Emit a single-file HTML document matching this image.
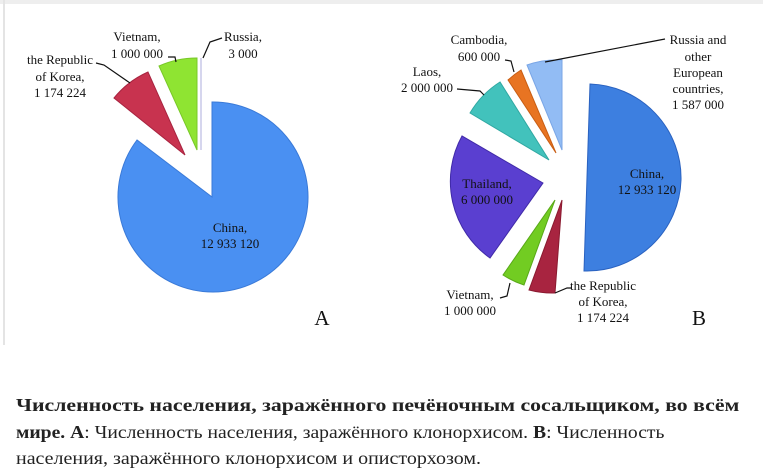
<!DOCTYPE html>
<html><head><meta charset="utf-8"><style>
html,body{margin:0;padding:0;background:#fff;width:763px;height:476px;overflow:hidden}
.cap{position:absolute;left:16px;font-family:"Liberation Serif",serif;font-size:18px;color:#222;white-space:nowrap;transform-origin:0 0}
</style></head><body>
<div style="position:absolute;left:0;top:0;width:763px;height:4px;background:#eee"></div>
<div style="position:absolute;left:3px;top:0;width:2px;height:345px;background:#e4e4e4"></div>
<svg width="763" height="345" style="position:absolute;left:0;top:0" font-family="Liberation Serif, serif" font-size="13" fill="#111">
<g stroke-width="1">
<path d="M212,197 L212,102 A95,95 0 1 1 137,140 Z" fill="#4a90f2" stroke="#3a7ad8"/>
<path d="M185,155 L114,98 A91,91 0 0 1 148,72 Z" fill="#c8334f" stroke="#a82440"/>
<path d="M197,150 L159,66 A92,92 0 0 1 197,58 Z" fill="#8fe432" stroke="#78c828"/>
<path d="M201,150 L201,58" stroke="#c8c8e8" stroke-width="1.5"/>
<path d="M587,177 L590,84 A94,94 0 0 1 681,180 A94,94 0 0 1 584,271 Z" fill="#3d7fe0" stroke="#2a62c0"/>
<path d="M543,183 L462,136 A94,94 0 0 0 490,258 Z" fill="#5a3fd0" stroke="#402aa8"/>
<path d="M555,200 L503,275 A91,91 0 0 0 524,285 Z" fill="#72cc22" stroke="#58a818"/>
<path d="M562,200 L529,290 A92,92 0 0 0 555,293 Z" fill="#a82440" stroke="#8a1a30"/>
<path d="M549,160 L470,113 A92,92 0 0 1 500,82 Z" fill="#42c2bc" stroke="#30a8a2"/>
<path d="M556,153 L508,80 A88,88 0 0 1 521,70 Z" fill="#e87422" stroke="#c85e14"/>
<path d="M562,150 L527,65 A90,90 0 0 1 562,60 Z" fill="#92bcf4" stroke="#7aa6e6"/>
</g>
<g stroke="#111" stroke-width="1.2" fill="none">
<path d="M96,63 L104,65 L130,83"/>
<path d="M168,57 L175,57 L176,62"/>
<path d="M222,38 L210,42 L203,58"/>
<path d="M505,60 L511,61 L514,72"/>
<path d="M457,89 L480,91 L484,95"/>
<path d="M665,39 L545,62"/>
<path d="M500,298 L507,296 L510,283"/>
<path d="M555,293 L567,288 L572,288"/>
</g>
<g text-anchor="middle">
<text x="137" y="41">Vietnam,</text><text x="137" y="58">1 000 000</text>
<text x="243" y="41">Russia,</text><text x="243" y="58">3 000</text>
<text x="60" y="64">the Republic</text><text x="60" y="81">of Korea,</text><text x="60" y="97">1 174 224</text>
<text x="230" y="232">China,</text><text x="230" y="248">12 933 120</text>
<text x="322" y="325" font-size="21">A</text>
<text x="479" y="44">Cambodia,</text><text x="479" y="61">600 000</text>
<text x="427" y="76">Laos,</text><text x="427" y="92">2 000 000</text>
<text x="698" y="44">Russia and</text><text x="698" y="61">other</text><text x="698" y="77">European</text><text x="698" y="93">countries,</text><text x="698" y="109">1 587 000</text>
<text x="647" y="178">China,</text><text x="647" y="194">12 933 120</text>
<text x="487" y="188">Thailand,</text><text x="487" y="204">6 000 000</text>
<text x="470" y="299">Vietnam,</text><text x="470" y="315">1 000 000</text>
<text x="603" y="290">the Republic</text><text x="603" y="306">of Korea,</text><text x="603" y="322">1 174 224</text>
<text x="699" y="325" font-size="21">B</text>
</g>
</svg>
<div class="cap" style="top:395px;font-weight:bold;transform:scaleX(1.21)">Численность населения, заражённого печёночным сосальщиком, во всём</div>
<div class="cap" style="top:422px;transform:scaleX(1.09)"><b>мире. A</b>: Численность населения, заражённого клонорхисом. <b>B</b>: Численность</div>
<div class="cap" style="top:448px;transform:scaleX(1.11)">населения, заражённого клонорхисом и описторхозом.</div>
</body></html>
